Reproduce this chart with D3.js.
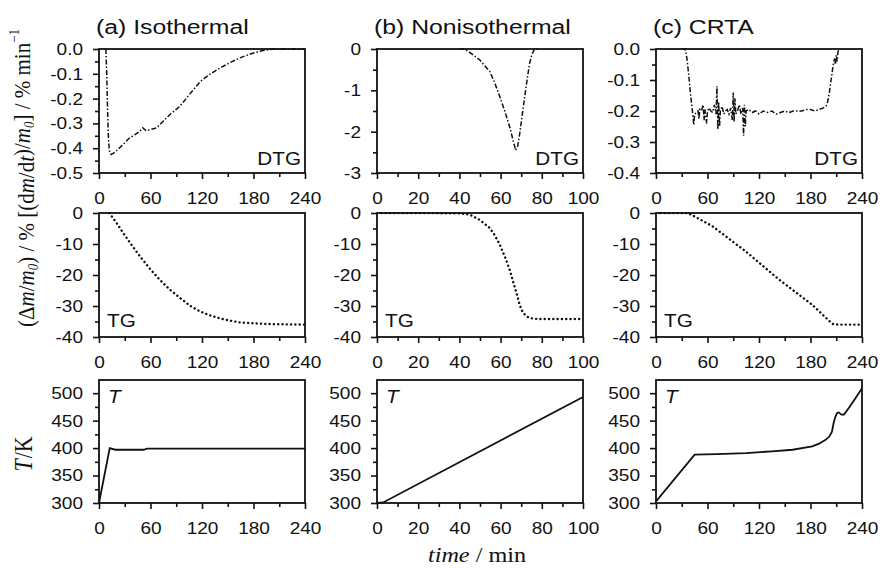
<!DOCTYPE html>
<html><head><meta charset="utf-8">
<script src="https://cdn.jsdelivr.net/npm/d3@7"></script>
<style>body{margin:0;background:#fff}svg{display:block}</style>
</head><body>
<script>
// ---------- DATA ----------
const panelTitles = ["(a) Isothermal", "(b) Nonisothermal", "(c) CRTA"];
const xDomains = [[0,240],[0,100],[0,240]];
const xTicks = [[0,60,120,180,240],[0,20,40,60,80,100],[0,60,120,180,240]];
const xMinor = [[30,90,150,210],[10,30,50,70,90],[30,90,150,210]];
const dtgDomains = [[-0.5,0],[-3,0],[-0.4,0]];
const dtgTicks = [[0,-0.1,-0.2,-0.3,-0.4,-0.5],[0,-1,-2,-3],[0,-0.1,-0.2,-0.3,-0.4]];
const dtgMinor = [[-0.05,-0.15,-0.25,-0.35,-0.45],[-0.5,-1.5,-2.5],[-0.05,-0.15,-0.25,-0.35]];
const tgDomain = [-40,0];
const tgTicks = [0,-10,-20,-30,-40];
const tgMinor = [-5,-15,-25,-35];
const tDomain = [300,524];
const tTicks = [300,350,400,450,500];
const tMinor = [325,375,425,475];

const dtgA = [[8,0],[9,-0.1],[10,-0.25],[11,-0.36],[12,-0.41],[14,-0.425],[17,-0.42],[22,-0.405],[28,-0.385],[35,-0.36],[42,-0.345],[48,-0.33],[51,-0.318],[55,-0.33],[60,-0.325],[67,-0.318],[75,-0.29],[84,-0.26],[94,-0.232],[105,-0.185],[118,-0.131],[130,-0.1],[141,-0.077],[152,-0.056],[164,-0.036],[178,-0.018],[191,-0.006],[205,0],[240,0]];
const dtgB = [[40,0],[42.6,0],[46,-0.12],[49.8,-0.26],[54.7,-0.54],[57,-0.8],[59.6,-1.15],[62,-1.5],[64.4,-1.88],[66,-2.2],[67.3,-2.45],[68.3,-2.35],[69.3,-2.04],[70.5,-1.6],[71.7,-1.15],[73,-0.7],[74.1,-0.34],[75.3,-0.12],[76.5,0],[78,0]];
const dtgC = [[30,0],[34,0],[36,-0.03],[38,-0.08],[40,-0.14],[42,-0.19],[43,-0.215],[44,-0.245],[45,-0.21],[47,-0.205],[49,-0.2],[50,-0.225],[51,-0.195],[53,-0.2],[55,-0.18],[56,-0.23],[57,-0.195],[59,-0.24],[60,-0.2],[62,-0.19],[64,-0.2],[66,-0.205],[68,-0.18],[70,-0.21],[71,-0.12],[72,-0.26],[73,-0.17],[74,-0.25],[75,-0.2],[77,-0.185],[79,-0.21],[81,-0.2],[83,-0.195],[85,-0.21],[87,-0.19],[89,-0.23],[90,-0.14],[91,-0.235],[92,-0.16],[93,-0.21],[95,-0.2],[97,-0.18],[99,-0.21],[101,-0.19],[102,-0.28],[103,-0.18],[104,-0.25],[105,-0.2],[108,-0.195],[112,-0.205],[116,-0.2],[120,-0.21],[125,-0.2],[130,-0.205],[135,-0.2],[140,-0.21],[145,-0.205],[150,-0.2],[155,-0.205],[160,-0.2],[165,-0.2],[170,-0.2],[175,-0.195],[180,-0.195],[185,-0.2],[190,-0.195],[195,-0.19],[198,-0.185],[200,-0.17],[202,-0.14],[204,-0.1],[206,-0.06],[208,-0.03],[209,-0.05],[210,-0.02],[211,-0.04],[212,-0.01],[213,0]];

const tgA = [[12,0],[20,-3],[28.3,-6.5],[38,-10.3],[47.8,-14],[60,-18.2],[71,-21.6],[82,-24.6],[94,-27.3],[106,-29.9],[118,-31.8],[130,-33.1],[141,-34],[152,-34.7],[164,-35.3],[180,-35.6],[195,-35.8],[215,-35.9],[240,-36]];
const tgB = [[0,0],[20,0],[40,-0.1],[45,-0.5],[49.8,-2.2],[54.7,-4.8],[57,-7],[59.6,-10.2],[62,-14],[64.4,-18.3],[66,-22],[67.7,-25.8],[69,-29],[70.1,-31.2],[72,-33],[74.1,-33.9],[78,-34.2],[85,-34.2],[100,-34.2]];
const tgC = [[0,0],[20,0],[37,0],[43,-0.8],[66,-4.3],[105,-12.5],[143.5,-21.5],[182,-29.6],[201,-34.6],[206,-35.8],[212,-36],[240,-36]];

const tA = [[0,300],[12.5,400],[19,397],[52,397],[56,399],[240,399]];
const tB = [[0,300],[3,301],[100,493]];
const tC = [[0,303],[45,388],[70,389],[105,391],[135,394],[159,397],[182,403],[190,408],[197.6,415],[202,421],[205,430],[207,446],[209,457],[211,464],[213,465],[216,461],[219,461],[225,474],[232,490],[240,509]];

const dtgData = [dtgA, dtgB, dtgC];
const tgData = [tgA, tgB, tgC];
const tData = [tA, tB, tC];

// ---------- LAYOUT ----------
const W = 882, H = 568;
const lefts = [99, 377, 656];
const pw = 206;
const rows = [{top:49,h:124},{top:213,h:124},{top:380,h:123}];
const sans = "'Liberation Sans', Arial, Helvetica, sans-serif";
const serif = "'Liberation Serif', 'Times New Roman', serif";
const SX = 1.12;

const svg = d3.select("body").append("svg").attr("width", W).attr("height", H);
svg.append("rect").attr("width", W).attr("height", H).attr("fill", "#fff");

function fmt1(v){ return v.toFixed(1); }
function fmt0(v){ return String(Math.round(v)); }

function wideText(parent, x, y, txt, size, sx, anchor) {
  return parent.append("text").attr("transform", `translate(${x},${y}) scale(${sx},1)`)
    .attr("text-anchor", anchor || "start").attr("font-family", sans).attr("font-size", size)
    .attr("fill", "#111").text(txt);
}

function panel(col, row, yDomain, yTicks, yMinor, yFmt, data, style) {
  const r = rows[row];
  const x0 = lefts[col];
  const x = d3.scaleLinear().domain(xDomains[col]).range([x0, x0 + pw]);
  const y = d3.scaleLinear().domain(yDomain).range([r.top + r.h, r.top]);
  const g = svg.append("g");

  const ax = g.append("g").attr("transform", `translate(0,${r.top + r.h})`)
    .call(d3.axisBottom(x).tickValues(xTicks[col]).tickSize(6).tickSizeOuter(0).tickPadding(13));
  g.append("g").attr("transform", `translate(0,${r.top + r.h})`)
    .call(d3.axisBottom(x).tickValues(xMinor[col]).tickSize(4).tickSizeOuter(0).tickFormat(""));
  const ay = g.append("g").attr("transform", `translate(${x0},0)`)
    .call(d3.axisLeft(y).tickValues(yTicks).tickSize(6).tickSizeOuter(0).tickPadding(10).tickFormat(yFmt));
  g.append("g").attr("transform", `translate(${x0},0)`)
    .call(d3.axisLeft(y).tickValues(yMinor).tickSize(4).tickSizeOuter(0).tickFormat(""));
  g.selectAll(".domain").remove();
  g.selectAll(".tick line").attr("stroke", "#111").attr("stroke-width", 1.6);
  g.selectAll(".tick text").attr("font-family", sans).attr("font-size", 17).attr("fill", "#111")
    .attr("transform", `scale(${SX},1)`);
  ax.selectAll(".tick text").attr("dy", "0.71em");
  ay.selectAll(".tick text").attr("x", -16 / SX);

  const line = d3.line().x(d => x(d[0])).y(d => y(d[1]));
  const clipId = `clip${col}${row}`;
  svg.append("clipPath").attr("id", clipId).append("rect")
    .attr("x", x0).attr("y", r.top - 1).attr("width", pw).attr("height", r.h + 2);
  const p = g.append("path").datum(data).attr("d", line).attr("fill", "none")
    .attr("stroke", "#111").attr("clip-path", `url(#${clipId})`);
  if (style === "dtg") p.attr("stroke-width", 1.5).attr("stroke-dasharray", "5,2,1.5,2");
  else if (style === "tg") p.attr("stroke-width", 2.4).attr("stroke-linecap", "round").attr("stroke-dasharray", "0.1,4.2");
  else p.attr("stroke-width", 1.8);

  g.append("rect").attr("x", x0).attr("y", r.top).attr("width", pw).attr("height", r.h)
    .attr("fill", "none").attr("stroke", "#111").attr("stroke-width", 1.8);

  if (style === "dtg") wideText(g, x0 + pw - 4, r.top + r.h - 8, "DTG", 18, 1.15, "end");
  else if (style === "tg") wideText(g, x0 + 8, r.top + r.h - 10, "TG", 18, 1.15);
  else wideText(g, x0 + 9, r.top + 23, "T", 19, 1.1).attr("font-style", "italic");
}

for (let c = 0; c < 3; c++) {
  panel(c, 0, dtgDomains[c], dtgTicks[c], dtgMinor[c], c === 1 ? fmt0 : fmt1, dtgData[c], "dtg");
  panel(c, 1, tgDomain, tgTicks, tgMinor, fmt0, tgData[c], "tg");
  panel(c, 2, tDomain, tTicks, tMinor, fmt0, tData[c], "t");
  wideText(svg, lefts[c] - 3, 34, panelTitles[c], 21, 1.18);
}

// y label rows 1-2
const yl = svg.append("text").attr("transform", "translate(34,178) scale(1.12,1) rotate(-90)")
  .attr("text-anchor", "middle").attr("font-family", serif).attr("font-size", 21).attr("fill", "#111");
const parts = [
  ["(Δ",""],["m","i"],["/",""],["m","i"],["0","sub"],[") / %  [(d",""],["m","i"],["/d",""],["t","i"],[")/",""],["m","i"],["0","sub"],["] / % min",""],["−1","sup"]
];
parts.forEach(([t, s]) => {
  const ts = yl.append("tspan").text(t);
  if (s === "i") ts.attr("font-style", "italic");
  if (s === "sub") ts.attr("font-style", "italic").attr("font-size", 13).attr("dy", 4);
  if (s === "sup") ts.attr("font-size", 13).attr("dy", -9);
  if (t.startsWith(")") || t.startsWith("]")) ts.attr("dy", -4);
});

// T/K label
const tl = svg.append("text").attr("transform", "translate(32,454) scale(1.1,1) rotate(-90)")
  .attr("text-anchor", "middle").attr("font-family", serif).attr("font-size", 22).attr("fill", "#111");
tl.append("tspan").attr("font-style", "italic").text("T");
tl.append("tspan").attr("dx", 1).text("/K");

// x label
const xl = svg.append("text").attr("transform", "translate(477,562) scale(1.1,1)").attr("text-anchor", "middle")
  .attr("font-family", serif).attr("font-size", 22).attr("fill", "#111");
xl.append("tspan").attr("font-style", "italic").text("time");
xl.append("tspan").text(" / min");
</script>
</body></html>
